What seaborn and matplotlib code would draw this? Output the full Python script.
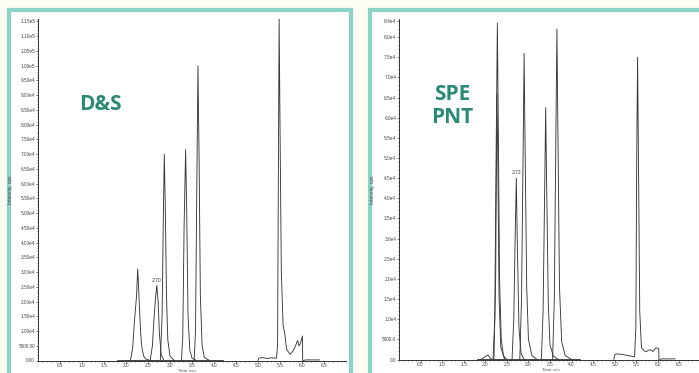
import matplotlib
matplotlib.use("Agg")
import numpy as np
import seaborn as sns
from matplotlib import pyplot as plt
from matplotlib.patches import Rectangle
from matplotlib.ticker import FixedLocator, MultipleLocator

# ---- data: D&S panel (time, min / intensity, cps) ----
ds_base_t = [1.80, 2.50, 3.20, 4.20]
ds_base_i = [300, 300, 300, 300]
ds_p1_t = [2.10, 2.15, 2.19, 2.21, 2.24, 2.265, 2.28, 2.30, 2.33, 2.36, 2.40, 2.45, 2.55]
ds_p1_i = [0, 4000, 13000, 16500, 22000, 31000, 27000, 20000, 10000, 4500, 1500, 500, 0]
ds_p2_t = [2.55, 2.60, 2.64, 2.67, 2.70, 2.73, 2.76, 2.80, 2.86]
ds_p2_i = [0, 5000, 15000, 21000, 25500, 20000, 9000, 2000, 0]
ds_p3_t = [2.78, 2.82, 2.85, 2.87, 2.89, 2.92, 2.95, 3.00, 3.10]
ds_p3_i = [0, 15000, 50000, 70000, 55000, 22000, 7000, 1500, 0]
ds_p4_t = [3.26, 3.29, 3.32, 3.355, 3.38, 3.41, 3.45, 3.50, 3.60]
ds_p4_i = [0, 8000, 45000, 71500, 50000, 15000, 3500, 800, 0]
ds_p5_t = [3.55, 3.58, 3.61, 3.635, 3.66, 3.69, 3.73, 3.78, 3.90]
ds_p5_i = [0, 10000, 60000, 100000, 70000, 22000, 5000, 1000, 0]
ds_p6_t = [5.00, 5.02, 5.10, 5.20, 5.30, 5.42, 5.445, 5.465, 5.48, 5.50, 5.53, 5.57, 5.61,
           5.65, 5.73, 5.80, 5.84, 5.90, 5.93, 5.96, 6.01, 6.015, 6.10, 6.40]
ds_p6_i = [0, 800, 1000, 700, 900, 800, 5000, 70000, 116000, 80000, 30000, 12000, 8900,
           3800, 2100, 3300, 4500, 6800, 5000, 5600, 8300, 0, 200, 200]
ds_label = "2.70"

# ---- data: SPE PNT panel ----
spe_base_t = [1.80, 2.50, 3.20, 4.20]
spe_base_i = [200, 200, 200, 200]
spe_p0_t = [1.90, 1.98, 2.04, 2.07, 2.11, 2.16]
spe_p0_i = [0, 600, 1000, 1070, 400, 0]
spe_p1_t = [2.18, 2.22, 2.25, 2.28, 2.30, 2.33, 2.37, 2.42, 2.50]
spe_p1_i = [0, 10000, 50000, 83500, 60000, 20000, 5000, 1000, 0]
spe_p1b_t = [2.20, 2.24, 2.27, 2.29, 2.32, 2.36, 2.45]
spe_p1b_i = [0, 20000, 66000, 50000, 15000, 3000, 0]
spe_p2_t = [2.62, 2.66, 2.70, 2.72, 2.74, 2.78, 2.83, 2.90]
spe_p2_i = [0, 10000, 35000, 45000, 30000, 8000, 1500, 0]
spe_p3_t = [2.80, 2.84, 2.88, 2.90, 2.92, 2.96, 3.00, 3.08, 3.20]
spe_p3_i = [0, 15000, 55000, 76000, 55000, 18000, 5000, 1000, 0]
spe_p4_t = [3.30, 3.34, 3.38, 3.40, 3.42, 3.46, 3.50, 3.58, 3.70]
spe_p4_i = [0, 12000, 45000, 62500, 45000, 14000, 3500, 800, 0]
spe_p5_t = [3.56, 3.60, 3.64, 3.66, 3.68, 3.72, 3.77, 3.85, 4.00]
spe_p5_i = [0, 15000, 60000, 82000, 60000, 18000, 4500, 1000, 0]
spe_p6_t = [4.98, 5.00, 5.05, 5.15, 5.30, 5.46, 5.49, 5.51, 5.53, 5.55, 5.58, 5.62, 5.68,
            5.73, 5.78, 5.83, 5.89, 5.93, 5.96, 6.02, 6.025, 6.10, 6.40]
spe_p6_i = [0, 1200, 1400, 1300, 1000, 660, 8000, 50000, 75000, 50000, 12000, 2900, 2200,
            1900, 2300, 2400, 2000, 2600, 2900, 2700, 0, 150, 150]
spe_label = "2.72"

ds_traces = [(ds_base_t, ds_base_i), (ds_p1_t, ds_p1_i), (ds_p2_t, ds_p2_i), (ds_p3_t, ds_p3_i),
             (ds_p4_t, ds_p4_i), (ds_p5_t, ds_p5_i), (ds_p6_t, ds_p6_i)]
spe_traces = [(spe_base_t, spe_base_i), (spe_p0_t, spe_p0_i), (spe_p1_t, spe_p1_i),
              (spe_p1b_t, spe_p1b_i), (spe_p2_t, spe_p2_i), (spe_p3_t, spe_p3_i),
              (spe_p4_t, spe_p4_i), (spe_p5_t, spe_p5_i), (spe_p6_t, spe_p6_i)]

ds_yticks = list(range(0, 115001, 5000))
spe_yticks = list(range(0, 80001, 5000)) + [84000]
xticks = [0.5, 1.0, 1.5, 2.0, 2.5, 3.0, 3.5, 4.0, 4.5, 5.0, 5.5, 6.0, 6.5]

TEAL_EDGE = "#8dd3c7"
TEAL_TEXT = "#2a8a77"
BG = "#fdfcf3"
LINE = "#383838"
TICK = "#444444"

sns.set_style("ticks")
plt.rcParams["font.family"] = ["Liberation Sans", "DejaVu Sans"]

W, H = 699, 373
fig = plt.figure(figsize=(W / 100, H / 100), dpi=100, facecolor=BG)


def px_rect(x0, y0, x1, y1):
    # pixel box (top-left origin) -> figure fraction rect
    return [x0 / W, 1 - y1 / H, (x1 - x0) / W, (y1 - y0) / H]


# teal framed cards
for x0, x1 in [(9, 351), (370, 720)]:
    r = px_rect(x0, 10, x1, 390)
    fig.add_artist(Rectangle((r[0], r[1]), r[2], r[3], transform=fig.transFigure,
                             facecolor="white", edgecolor=TEAL_EDGE, lw=3.0, zorder=0))


def fmt_ds(v):
    if v == 0:
        return "0.00"
    if v < 10000:
        return f"{v:.2f}"
    e = int(np.floor(np.log10(v)))
    return f"{v / 10 ** e:.2f}e{e}"


def fmt_spe(v):
    if v == 0:
        return "0.0"
    if v < 10000:
        return f"{v:.1f}"
    return f"{v / 1e4:.1f}e4"


def draw_panel(rect, traces, ylim, yticks, fmt, label_text, label_trace, xlab_x):
    ax = fig.add_axes(rect)
    ax.set_facecolor("none")
    for t, i in traces:
        sns.lineplot(x=t, y=i, ax=ax, color=LINE, lw=0.65, sort=False, estimator=None)
    ax.set_xlim(0, 7.0)
    ax.set_ylim(*ylim)
    ax.xaxis.set_major_locator(FixedLocator(xticks))
    ax.set_xticklabels([f"{x:.1f}" for x in xticks])
    ax.xaxis.set_minor_locator(MultipleLocator(0.1))
    ax.yaxis.set_major_locator(FixedLocator(yticks))
    ax.set_yticklabels([fmt(v) for v in yticks])
    ax.yaxis.set_minor_locator(MultipleLocator(1000))
    ax.tick_params(which="major", length=1.5, width=0.5, color=TICK, labelsize=3.4,
                   labelcolor=TICK, pad=0.5)
    ax.tick_params(which="minor", length=0.9, width=0.4, color=TICK)
    for s in ["top", "right"]:
        ax.spines[s].set_visible(False)
    for s in ["left", "bottom"]:
        ax.spines[s].set_linewidth(0.7)
        ax.spines[s].set_color("#333333")
    ax.set_xlabel("Time, min", fontsize=3.0, color=TICK)
    ax.set_ylabel("Intensity, cps", fontsize=3.5, color=TICK)
    ax.xaxis.set_label_coords(xlab_x, -0.024)
    ax.yaxis.set_label_coords(-0.08, 0.5)
    lt, li = label_trace
    k = int(np.argmax(li))
    ax.text(lt[k], li[k] + 700, label_text, fontsize=3.6, color="#333333",
            ha="center", va="bottom")
    return ax


draw_panel(px_rect(38, 18.5, 346, 360.5), ds_traces, (0, 116000), ds_yticks, fmt_ds,
           ds_label, (ds_p2_t, ds_p2_i), 0.484)
draw_panel(px_rect(399, 19, 701, 359.5), spe_traces, (0, 84500), spe_yticks, fmt_spe,
           spe_label, (spe_p2_t, spe_p2_i), 0.503)

fig.text(100 / W, 1 - 105 / H, "D&S", fontsize=15, fontweight="bold", color=TEAL_TEXT,
         ha="center", va="center", family=["Open Sans", "DejaVu Sans"])
fig.text(452 / W, 1 - 106 / H, "SPE\nPNT", fontsize=15, fontweight="bold", color=TEAL_TEXT,
         ha="center", va="center", family=["Open Sans", "DejaVu Sans"], linespacing=1.15)

fig.savefig("out.png", dpi=100, facecolor=BG)
